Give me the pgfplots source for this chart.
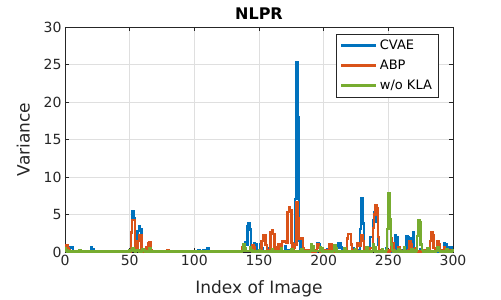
\documentclass[border=0pt]{standalone}
\usepackage{pgfplots}
\pgfplotsset{compat=1.18}
\usepackage{fontspec}
\setmainfont{DejaVu Sans}
\definecolor{mblue}{rgb}{0,0.447,0.741}
\definecolor{morange}{rgb}{0.85,0.325,0.098}
\definecolor{mgreen}{rgb}{0.466,0.674,0.188}
\definecolor{axgray}{rgb}{0.15,0.15,0.15}
\begin{document}
\begin{tikzpicture}
\path[use as bounding box] (-65pt,-48pt) rectangle (436pt,252pt);
\begin{axis}[
  at={(0,0)}, anchor=south west,
  scale only axis, width=388pt, height=225pt,
  xmin=0, xmax=300, ymin=0, ymax=30,
  xtick={0,50,...,300}, ytick={0,5,...,30},
  tick align=inside, major tick length=4pt,
  tick style={axgray, line width=0.5pt},
  axis line style={axgray, line width=0.6pt},
  grid=major, grid style={gray!25, line width=0.5pt},
  ticklabel style={font=\fontsize{14}{16}\selectfont, text=axgray},
  /pgf/number format/assume math mode=true,
  xlabel={Index of Image}, ylabel={Variance},
  label style={font=\fontsize{17}{19}\selectfont, text=axgray},
  xlabel style={yshift=-8pt},
  ylabel style={yshift=7pt},
  title={\textbf{NLPR}},
  title style={font=\fontsize{16}{18}\selectfont, yshift=-2pt},
  clip=false,
  legend style={at={(0.962,0.969)}, anchor=north east, draw=axgray, line width=0.6pt,
     fill=white, font=\fontsize{13}{15}\selectfont, row sep=5pt, inner xsep=4pt, inner ysep=4pt},
  legend cell align=left,
  legend image code/.code={\draw[#1, line width=3pt] (0pt,0pt) -- (35pt,0pt);},
  every axis plot/.append style={line width=2.4pt, line join=miter},
]
\addplot[mblue, const plot] coordinates {
(0,0.3)(1,0.5)(2,0.2)(3,0.1)(4,0.7)(5,0.6)(6,0.05)(19,0.05)(20,0.7)(21,0.4)(22,0.05)(50,0.1)(51,2.6)(52,5.5)(53,4.5)(54,0.3)(55,0.3)(56,2.8)(57,3.5)(58,3.0)(59,0.3)(60,0.1)(63,0.2)(64,1.0)(65,1.1)(66,0.2)(67,0.05)(102,0.05)(103,0.25)(104,0.05)(106,0.05)(107,0.25)(108,0.25)(109,0.05)(110,0.45)(111,0.05)(136,0.05)(137,0.5)(138,0.9)(139,1.3)(140,1.0)(141,3.5)(142,3.85)(143,3.0)(144,0.3)(145,0.3)(146,1.2)(147,1.0)(148,0.2)(150,0.1)(151,1.1)(152,0.5)(153,0.05)(157,0.05)(158,0.5)(159,0.05)(164,0.05)(165,0.6)(166,0.05)(169,0.05)(170,0.8)(171,0.3)(172,0.3)(173,0.3)(176,0.1)(177,1.0)(178,7.1)(179,25.3)(180,18.0)(181,1.5)(182,0.3)(183,0.05)(189,0.05)(190,0.5)(191,0.05)(194,0.05)(195,1.2)(196,1.0)(197,0.3)(198,0.05)(202,0.05)(203,0.4)(204,0.05)(210,0.5)(211,1.2)(212,1.2)(213,0.6)(214,0.05)(215,0.3)(216,0.05)(221,0.05)(222,0.5)(223,0.05)(227,0.3)(228,3.1)(229,7.2)(230,3.8)(231,0.5)(232,0.05)(235,0.3)(236,2.0)(237,2.0)(238,4.2)(239,5.3)(240,5.5)(241,4.0)(242,1.0)(243,0.3)(244,0.05)(247,0.05)(248,0.5)(249,0.05)(254,0.3)(255,2.2)(256,2.0)(257,0.4)(258,0.05)(260,0.3)(261,0.05)(263,0.3)(264,2.1)(265,2.0)(266,0.5)(267,0.3)(268,1.8)(269,2.6)(270,0.5)(271,0.05)(275,0.4)(276,0.05)(280,0.3)(281,0.05)(285,0.05)(286,0.5)(287,0.05)(292,0.2)(293,1.2)(294,1.0)(295,0.3)(296,0.1)(297,0.7)(298,0.6)(299,0.2)(300,0.1)
};
\addlegendentry{CVAE}
\addplot[morange, const plot] coordinates {
(0,0.8)(1,0.9)(2,0.5)(3,0.2)(4,0.05)(50,0.05)(51,2.6)(52,4.3)(53,4.3)(54,0.3)(55,0.1)(56,1.5)(57,2.2)(58,2.2)(59,0.3)(60,0.05)(62,0.05)(63,0.6)(64,1.2)(65,1.27)(66,0.3)(67,0.05)(78,0.05)(79,0.2)(80,0.05)(136,0.05)(137,0.6)(138,0.3)(139,0.1)(144,0.1)(145,0.87)(146,0.6)(147,0.1)(151,0.2)(152,1.5)(153,2.2)(154,2.2)(155,0.9)(156,0.2)(158,0.3)(159,2.7)(160,2.9)(161,2.4)(162,0.3)(163,0.1)(164,0.7)(165,1.0)(166,0.3)(167,0.3)(168,1.4)(169,1.4)(170,1.3)(171,1.2)(172,5.3)(173,6.0)(174,5.6)(175,1.2)(176,0.3)(177,0.5)(178,1.0)(179,6.6)(180,4.5)(181,1.8)(182,1.8)(183,1.8)(184,0.5)(185,0.3)(186,0.05)(187,0.05)(188,0.3)(189,0.05)(194,0.2)(195,1.0)(196,0.5)(197,0.05)(199,0.05)(200,0.3)(201,0.05)(203,0.2)(204,1.1)(205,1.1)(206,0.3)(207,0.05)(217,0.2)(218,1.8)(219,2.4)(220,2.4)(221,1.0)(222,0.3)(223,0.05)(225,0.2)(226,1.2)(227,0.8)(228,0.8)(229,2.3)(230,1.5)(231,0.3)(232,0.05)(235,0.1)(236,0.5)(237,0.5)(238,3.2)(239,5.0)(240,6.3)(241,5.8)(242,2.0)(243,0.3)(244,0.05)(251,0.2)(252,1.8)(253,1.2)(254,0.3)(255,0.05)(257,0.1)(258,0.65)(259,0.3)(260,0.05)(261,0.1)(262,0.5)(263,0.05)(265,0.2)(266,1.4)(267,1.0)(268,0.3)(269,0.1)(270,0.1)(271,0.5)(272,0.05)(277,0.05)(278,0.3)(279,0.05)(281,0.2)(282,1.5)(283,2.65)(284,2.3)(285,0.5)(286,0.3)(287,0.5)(288,1.5)(289,1.0)(290,0.3)(291,0.05)(292,0.1)(293,0.65)(294,0.3)(295,0.05)(297,0.05)(298,0.3)(299,0.1)(300,0.05)
};
\addlegendentry{ABP}
\addplot[mgreen, const plot] coordinates {
(0,0.5)(1,0.2)(2,0.05)(10,0.05)(11,0.2)(12,0.05)(49,0.05)(50,0.3)(51,0.1)(52,0.45)(53,0.2)(54,0.05)(55,0.1)(56,0.3)(57,0.05)(59,0.1)(60,0.4)(61,0.3)(62,0.05)(64,0.1)(65,0.45)(66,0.05)(137,0.1)(138,1.0)(139,0.5)(140,0.1)(142,0.1)(143,0.6)(144,0.3)(145,0.05)(149,0.05)(150,0.3)(151,0.05)(159,0.05)(160,0.4)(161,0.05)(166,0.05)(167,0.5)(168,0.05)(174,0.05)(175,0.4)(176,0.05)(182,0.05)(183,0.4)(184,0.05)(189,0.1)(190,1.0)(191,0.8)(192,0.1)(196,0.1)(197,0.6)(198,0.5)(199,0.05)(207,0.1)(208,0.87)(209,0.5)(210,0.05)(215,0.05)(216,0.5)(217,0.05)(223,0.05)(224,0.4)(225,0.05)(232,0.05)(233,0.6)(234,0.05)(237,0.1)(238,1.0)(239,0.6)(240,0.05)(244,0.05)(245,0.4)(246,0.05)(248,0.3)(249,3.1)(250,7.8)(251,4.4)(252,1.0)(253,0.3)(254,0.05)(257,0.05)(258,0.4)(259,0.05)(261,0.1)(262,0.6)(263,0.05)(267,0.05)(268,0.4)(269,0.05)(271,0.2)(272,2.1)(273,4.2)(274,4.0)(275,1.0)(276,0.3)(277,0.05)(279,0.05)(280,0.5)(281,0.05)(287,0.1)(288,0.65)(289,0.3)(290,0.05)(294,0.05)(295,0.4)(296,0.05)(298,0.05)(299,0.3)(300,0.05)
};
\addlegendentry{w/o KLA}
\end{axis}
\end{tikzpicture}
\end{document}
